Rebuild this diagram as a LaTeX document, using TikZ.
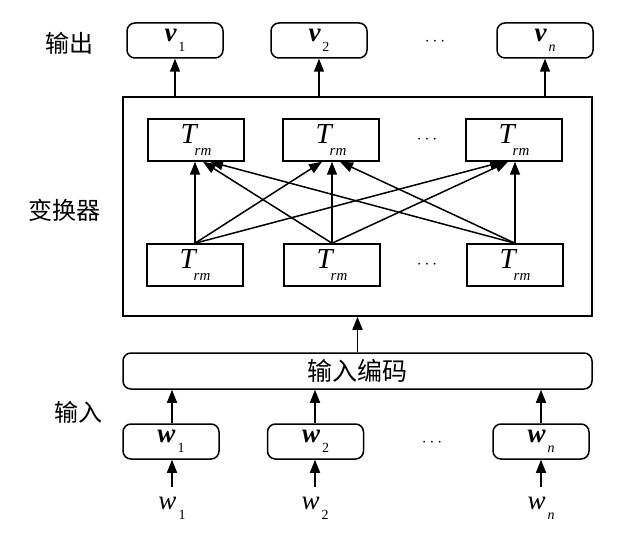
\documentclass[tikz,border=0pt]{standalone}
\usepackage{fontspec}
\setmainfont{Liberation Serif}
\newfontfamily\cjk{Noto Sans CJK SC}
\usetikzlibrary{arrows.meta}
\newcommand\mysub[1]{\raisebox{-0.38em}{\fontsize{14}{14}\selectfont #1}}
\newcommand\bv[2]{{\bfseries\itshape #1}\kern2pt\mysub{#2}}
\newcommand\iv[2]{{\itshape #1}\kern2pt\mysub{#2}}
\newcommand\trm{{\fontsize{29}{30}\selectfont\itshape T}\kern-2pt\raisebox{-0.45em}{\fontsize{15}{15}\selectfont\itshape rm}}
\begin{document}
\begin{tikzpicture}[x=1pt,y=-1pt,
  lw/.style={line width=1.5pt},
  rbox/.style={draw,lw,rounded corners=8pt,minimum width=96pt,minimum height=35pt,inner sep=0pt,font=\fontsize{27}{30}\selectfont},
  tbox/.style={draw,lw,minimum width=96pt,minimum height=42pt,inner sep=0pt,font=\fontsize{27}{30}\selectfont},
  arr/.style={lw,-{Triangle[length=13pt,width=10pt]}},
  cjkl/.style={font=\cjk\fontsize{24}{30}\selectfont,inner sep=0pt},
  dotsn/.style={font=\fontsize{18}{20}\selectfont,inner sep=0pt},
  wlab/.style={anchor=north,inner sep=0pt,font=\fontsize{27}{30}\selectfont}]
\useasboundingbox (0,0) rectangle (617,545);

% side labels
\node[cjkl] (lout) at (69,43) {输出};
\node[cjkl] (ltr) at (64,210) {变换器};
\node[cjkl] (lin) at (78,412) {输入};

% output boxes
\node[rbox] (v1) at (175,40.5) {\bv{v}{1}};
\node[rbox] (v2) at (319,40.5) {\bv{v}{2}};
\node[rbox] (vn) at (545,40.5) {\bv{v}{\itshape n}};
\node[dotsn] (vd) at (435,42) {$\cdots$};

% transformer big box
\node[draw,lw,minimum width=469pt,minimum height=219pt,inner sep=0pt] (big) at (357.5,206.5) {};

% upper Trm
\node[tbox] (u1) at (196,140) {\trm};
\node[tbox] (u2) at (331,140) {\trm};
\node[tbox] (u3) at (514,140) {\trm};
\node[dotsn] (ud) at (427,140) {$\cdots$};

% lower Trm
\node[tbox] (l1) at (195,265) {\trm};
\node[tbox] (l2) at (332,265) {\trm};
\node[tbox] (l3) at (515,265) {\trm};
\node[dotsn] (ld) at (427,265) {$\cdots$};

% encoding box
\node[draw,lw,rounded corners=8pt,minimum width=469pt,minimum height=36pt,inner sep=0pt,font=\cjk\fontsize{25}{30}\selectfont] (enc) at (357.5,371) {输入编码};

% w boxes
\node[rbox] (w1) at (171,441.5) {\bv{w}{1}};
\node[rbox] (w2) at (315.5,441.5) {\bv{w}{2}};
\node[rbox] (wn) at (541,441.5) {\bv{w}{\itshape n}};
\node[dotsn] (wd) at (432,443) {$\cdots$};

% w labels
\node[wlab] (wl1) at (172,497) {\iv{w}{1}};
\node[wlab] (wl2) at (315,497) {\iv{w}{2}};
\node[wlab] (wln) at (541,497) {\iv{w}{\itshape n}};

% arrows: inputs
\draw[arr] ([yshift=10pt]wl1.north) -- (wl1.north |- w1.south);
\draw[arr] ([yshift=10pt]wl2.north) -- (wl2.north |- w2.south);
\draw[arr] ([yshift=10pt]wln.north) -- (wln.north |- wn.south);
\draw[arr] (wl1.north |- w1.north) -- (wl1.north |- enc.south);
\draw[arr] (wl2.north |- w2.north) -- (wl2.north |- enc.south);
\draw[arr] (wln.north |- wn.north) -- (wln.north |- enc.south);
\draw[arr] (enc.north) -- (big.south);

% arrows: outputs
\draw[arr] (big.north -| v1.south) -- (v1.south);
\draw[arr] (big.north -| v2.south) -- (v2.south);
\draw[arr] (big.north -| vn.south) -- (vn.south);

% transformer connections
\draw[arr] (l1.north) -- (l1.north |- u1.south);
\draw[arr] (l1.north) -- ([xshift=-9pt]u2.south);
\draw[arr] (l1.north) -- ([xshift=-11pt]u3.south);
\draw[arr] (l2.north) -- ([xshift=7pt]u1.south);
\draw[arr] (l2.north) -- (l2.north |- u2.south);
\draw[arr] (l2.north) -- ([xshift=-6pt]u3.south);
\draw[arr] (l3.north) -- ([xshift=14pt]u1.south);
\draw[arr] (l3.north) -- ([xshift=9pt]u2.south);
\draw[arr] (l3.north) -- (l3.north |- u3.south);
\end{tikzpicture}
\end{document}
